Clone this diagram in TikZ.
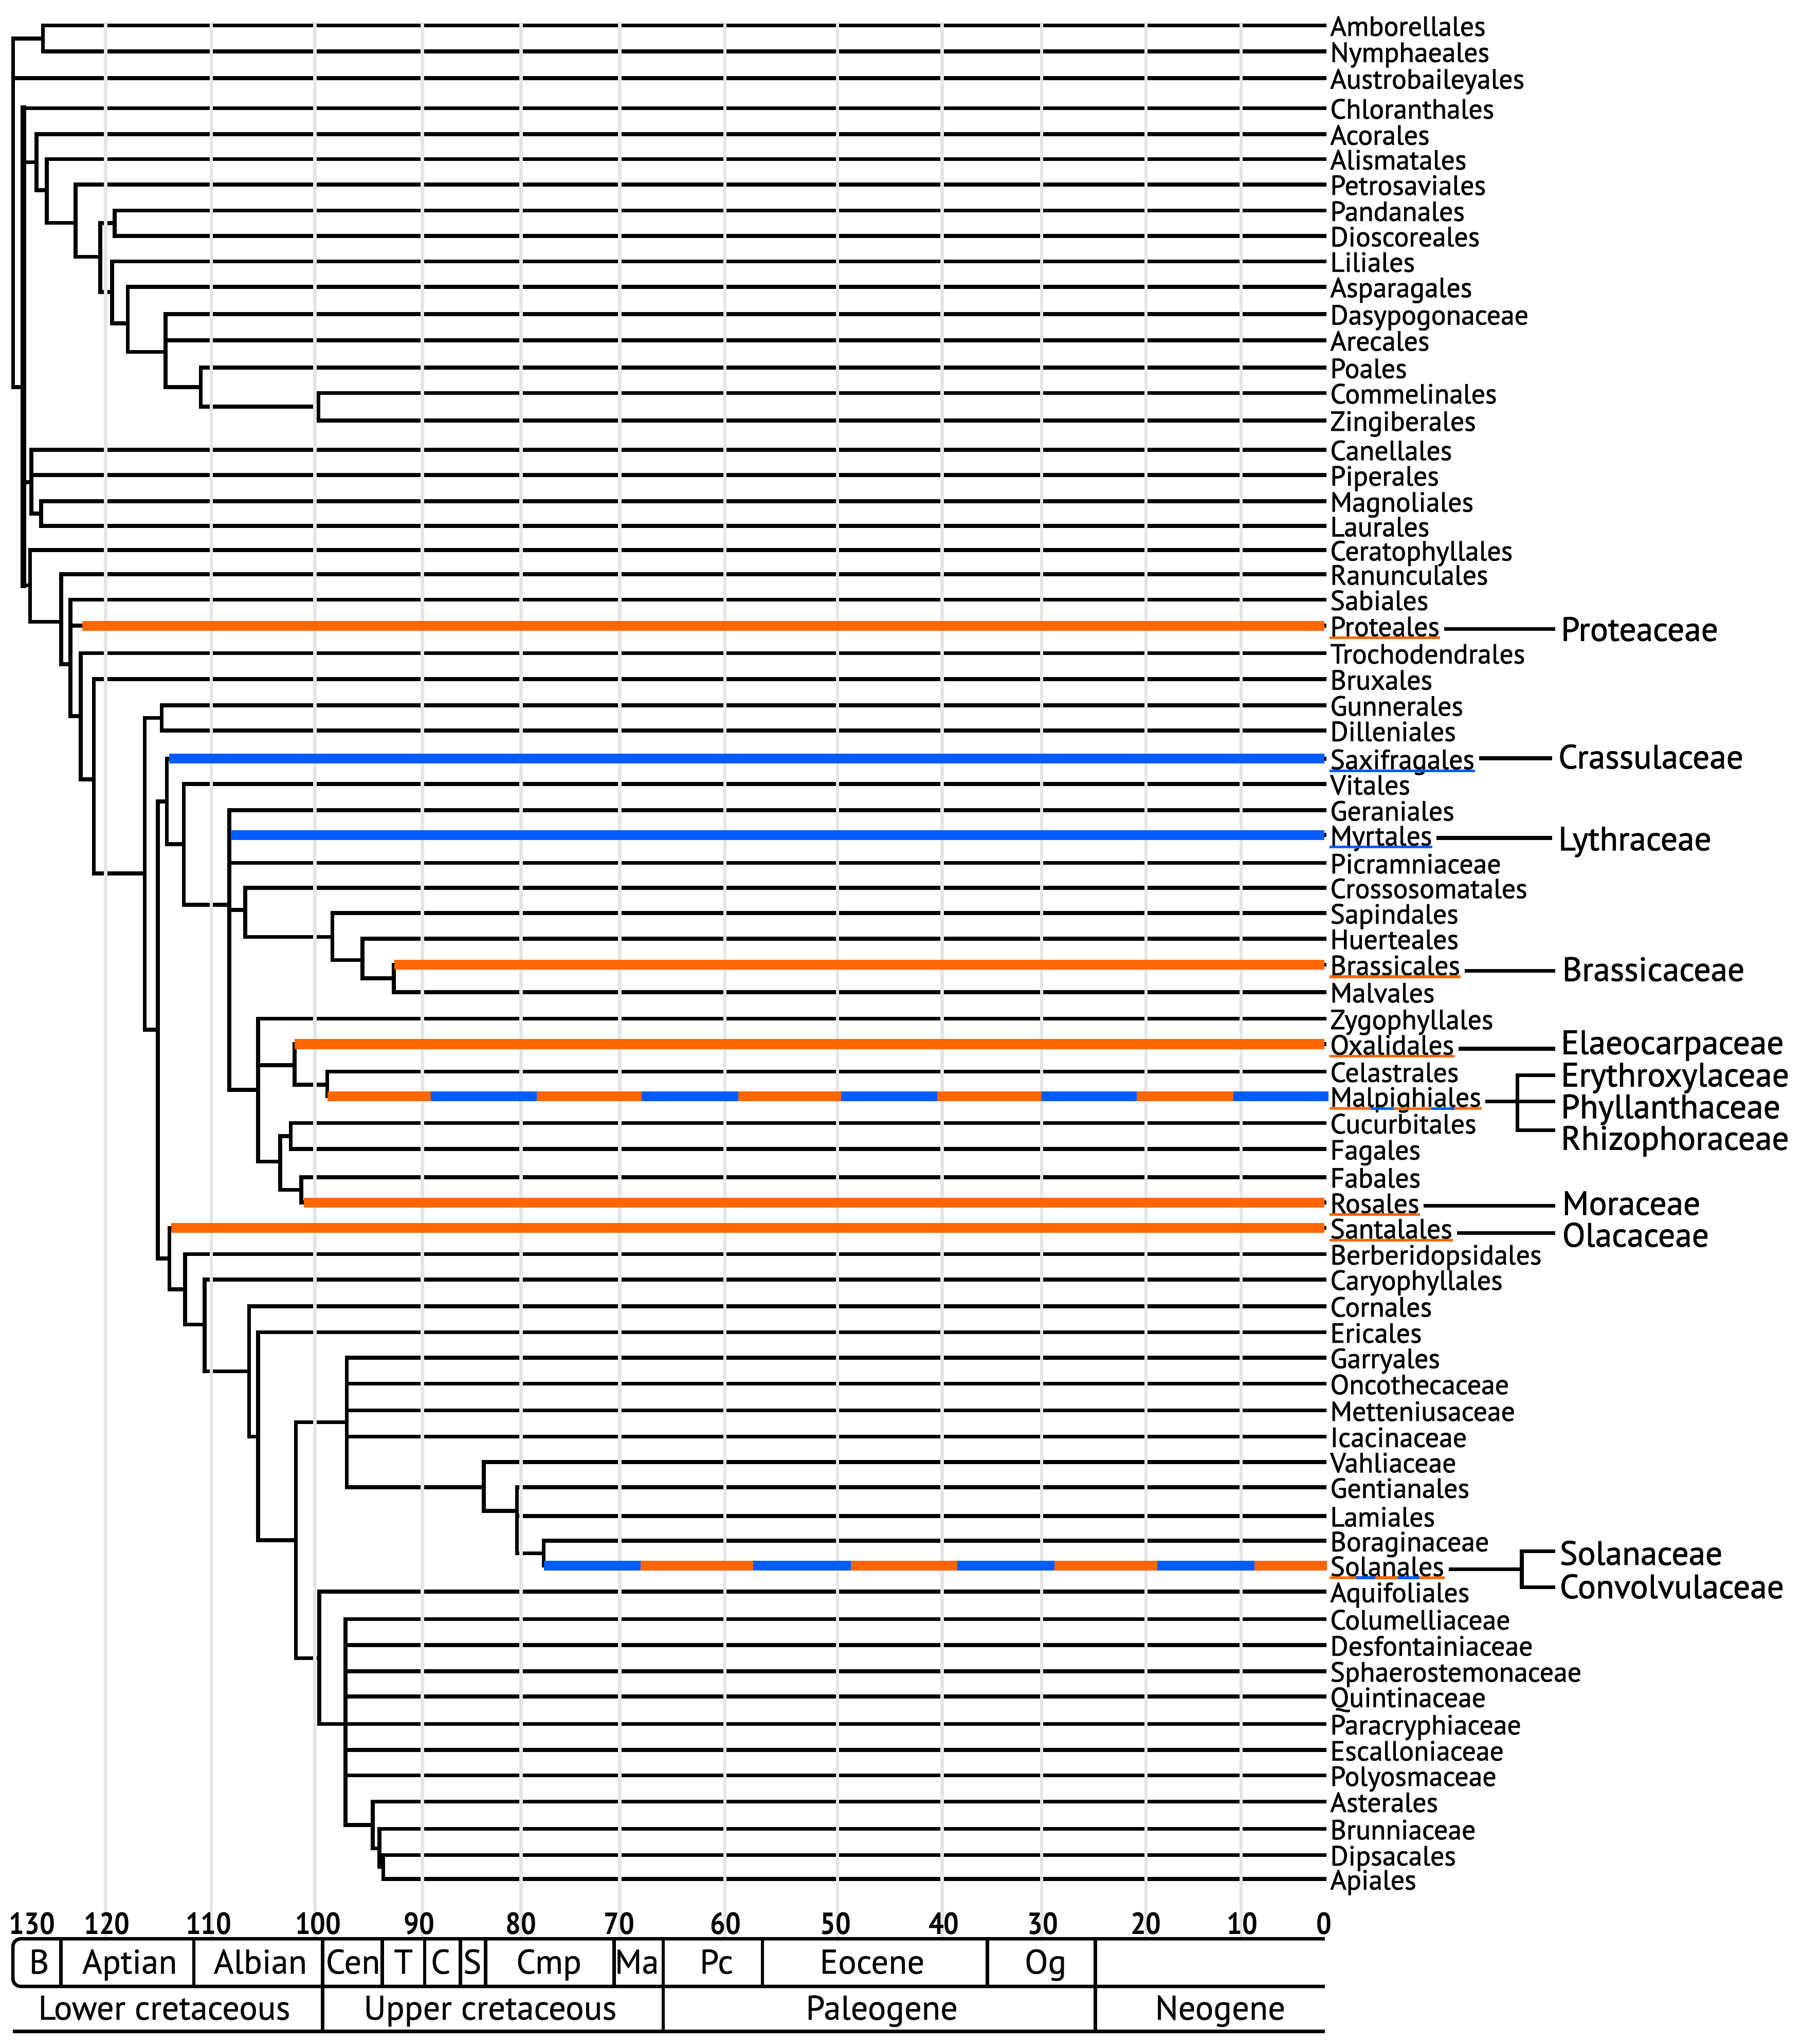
\documentclass[tikz,border=0pt]{standalone}
\usepackage{fontspec}
\usepackage{graphicx}
\setmainfont{PT Sans}
\newfontfamily\labfont{PT Sans}[FakeBold=1.4]
\newfontfamily\stfont{PT Sans}[FakeBold=0.6]
\usetikzlibrary{calc}
\definecolor{orng}{RGB}{255,102,0}
\definecolor{blu}{RGB}{0,92,255}
\definecolor{gridgray}{RGB}{229,229,229}
\begin{document}
\begin{tikzpicture}[x=0.5pt,y=-0.5pt,
  br/.style={line width=1.5pt, line cap=rect},
  brk/.style={line width=2.2pt, line cap=rect},
  gridln/.style={line width=1.25pt, draw=gridgray},
  hl/.style={line width=3.8pt},
  leaflab/.style={anchor=base west, inner sep=0pt, font=\labfont\fontsize{10.6}{12}\selectfont},
  famlab/.style={anchor=base west, inner sep=0pt, font=\labfont\fontsize{12.9}{14}\selectfont},
  conn/.style={line width=1.4pt},
  uline/.style={line width=1pt},
  ticklab/.style={anchor=base, inner sep=0pt, font=\bfseries\fontsize{11.75}{13}\selectfont},
  stagelab/.style={anchor=base, inner sep=0pt, font=\stfont\fontsize{13.1}{14}\selectfont},
  scl/.style={line width=1.3pt}]
\useasboundingbox (0,0) rectangle (1382,1568);
\fill[white] (0,0) rectangle (1382,1568);

% ---------- black tree ----------
\draw[br] (10,29.5) -- (10,297);
\draw[brk] (18,83) -- (18,449);
\foreach \nx/\a/\b/\s/\p in {
 33/19.5/39.5/29.5/10, 18/83/83/297/10,
 28/103/146/124.5/18, 36/122/171/146/28, 58/141.5/197/171/36,
 77/171.25/224/197/58, 88/161.5/181/171.25/77, 86/200.5/248/224/77,
 98/220/270/248/86, 127/241/297/270/98, 154/282/312/297/127,
 244/301.5/322.5/312/154,
 24/345/394/370/18, 31.5/384.5/403.5/394/24,
 23/422/477/449/18, 47/440.5/509.5/477/23, 54/460/549.4/509.5/47,
 62/501/597.8/549.4/54, 72/521/670/597.8/62, 111/550.75/790/670/72,
 124/541/560.5/550.75/111, 121/614.8/965.5/790/111,
 128/582/647.6/614.8/121, 141/601.5/694/647.6/128, 176/621.5/836/694/141,
 188/681/718.7/698/176, 255/700.5/736.4/718.7/188, 278/720/750.5/736.4/255,
 302/740/761/750.5/278,
 198/781.5/891/836/176, 226/801/832/817/198, 251/822/841/832/226,
 215/871.5/912.75/891/198, 223/861.5/881.5/871.5/215, 231/903/922.5/912.75/215,
 130/942/989/965.5/121, 142/962/1016/989/130, 157/981.5/1052/1016/142,
 191/1002/1102/1052/157, 198/1022/1181.5/1102/191, 227/1091/1272/1181.5/198,
 266/1041.5/1141/1091/227, 371/1121.5/1159/1141/266, 396.5/1141/1191.5/1159/371,
 417/1182/1201/1191.5/396.5,
 245/1221/1322.5/1272/227, 265/1242/1400/1322.5/245, 286/1382/1418/1400/265,
 291/1403/1432/1418/286, 294/1423/1441.5/1432/291}
 {\draw[br] (\nx,\a) -- (\nx,\b); \draw[br] (\p,\s) -- (\nx,\s);}

\foreach \n/\y/\sx/\t in {
 Amb/19.5/33/Amborellales, Nym/39.5/33/Nymphaeales, Aus/60/10/Austrobaileyales,
 Chl/83/18/Chloranthales, Aco/103/28/Acorales, Ali/122/36/Alismatales,
 Pet/141.5/58/Petrosaviales, Pan/161.5/88/Pandanales, Dio/181/88/Dioscoreales,
 Lil/200.5/86/Liliales, Asp/220/98/Asparagales, Das/241/127/Dasypogonaceae,
 Are/261/127/Arecales, Poa/282/154/Poales, Com/301.5/244/Commelinales,
 Zin/322.5/244/Zingiberales, Can/345/24/Canellales, Pip/364.5/24/Piperales,
 Mag/384.5/31.5/Magnoliales, Lau/403.5/31.5/Laurales, Cer/422/23/Ceratophyllales,
 Ran/440.5/47/Ranunculales, Sab/460/54/Sabiales, Pro/480/54/Proteales,
 Tro/501/62/Trochodendrales, Bru/521/72/Bruxales, Gun/541/124/Gunnerales,
 Dil/560.5/124/Dilleniales, Sax/582/128/Saxifragales, Vit/601.5/141/Vitales,
 Ger/621.5/176/Geraniales, Myr/640.5/176/Myrtales, Pic/662/176/Picramniaceae,
 Cro/681/188/Crossosomatales, Sap/700.5/255/Sapindales, Hue/720/278/Huerteales,
 Bra/740/302/Brassicales, Mal/761/302/Malvales, Zyg/781.5/198/Zygophyllales,
 Oxa/801/226/Oxalidales, Cel/822/251/Celastrales, Malp/841/251/Malpighiales,
 Cuc/861.5/223/Cucurbitales, Fag/881.5/223/Fagales, Fab/903/231/Fabales,
 Ros/922.5/231/Rosales, San/942/130/Santalales, Ber/962/142/Berberidopsidales,
 Car/981.5/157/Caryophyllales, Cor/1002/191/Cornales, Eri/1022/198/Ericales,
 Gar/1041.5/266/Garryales, Onc/1061.5/266/Oncothecaceae, Met/1082/266/Metteniusaceae,
 Ica/1102/266/Icacinaceae, Vah/1121.5/371/Vahliaceae, Gen/1141/396.5/Gentianales,
 Lam/1163/396.5/Lamiales, Bor/1182/417/Boraginaceae, Sol/1201/417/Solanales,
 Aqu/1221/245/Aquifoliales, Col/1242/265/Columelliaceae, Des/1262/265/Desfontainiaceae,
 Sph/1282/265/Sphaerostemonaceae, Qui/1301.5/265/Quintinaceae, Par/1322.5/245/Paracryphiaceae,
 Esc/1342.5/265/Escalloniaceae, Pol/1362/265/Polyosmaceae, Ast/1382/286/Asterales,
 Brn/1403/291/Brunniaceae, Dip/1423/294/Dipsacales, Api/1441.5/294/Apiales}
 {\draw[br] (\sx,\y) -- (1016,\y);
  \node[leaflab] (lab-\n) at (1020,{\y+8}) {\t};}

% ---------- grey time lines (over black) ----------
\foreach \gx in {81,162,241.5,324,399.7,475.4,556,642.3,722.6,799,878.9,952.1}
  \draw[gridln] (\gx,17) -- (\gx,1486);

% ---------- coloured branches ----------
\draw[hl,orng] (63,480) -- (1016,480);
\draw[hl,blu] (129.8,582) -- (1016,582);
\draw[hl,blu] (177,640.5) -- (1016,640.5);
\draw[hl,orng] (302.4,740) -- (1016,740);
\draw[hl,orng] (226,801) -- (1016,801);
\draw[hl,orng] (233,922.5) -- (1016,922.5);
\draw[hl,orng] (131.4,942) -- (1016,942);
\foreach \a/\b/\c in {251.1/330.3/orng, 330.3/411.9/blu, 411.9/492.3/orng, 492.3/566.4/blu,
  566.4/645/orng, 645/719.1/blu, 719.1/798.9/orng, 798.9/871.8/blu, 871.8/945.9/orng, 945.9/1019/blu}
  \draw[hl,\c] (\a,841) -- (\b,841);
\foreach \a/\b/\c in {417.3/491.4/blu, 491.4/577.9/orng, 577.9/652.5/blu, 652.5/734.2/orng,
  734.2/808.7/blu, 808.7/887.6/orng, 887.6/962.1/blu, 962.1/1018/orng}
  \draw[hl,\c] (\a,1201) -- (\b,1201);

% ---------- underlines ----------
\foreach \n/\c in {Pro/orng, Sax/blu, Myr/blu, Bra/orng, Oxa/orng, Ros/orng, San/orng}
  \draw[uline,\c] ([yshift=-0.65pt]lab-\n.base west) -- ([yshift=-0.65pt]lab-\n.base east);
\coordinate (m0) at ([yshift=-0.65pt]lab-Malp.base west);
\coordinate (m1) at ([yshift=-0.65pt]lab-Malp.base east);
\foreach \a/\b/\c in {0/0.27/orng, 0.27/0.42/blu, 0.42/0.67/orng, 0.67/0.82/blu, 0.82/1/orng}
  \draw[uline,\c] ($(m0)!\a!(m1)$) -- ($(m0)!\b!(m1)$);
\coordinate (s0) at ([yshift=-0.65pt]lab-Sol.base west);
\coordinate (s1) at ([yshift=-0.65pt]lab-Sol.base east);
\foreach \a/\b/\c in {0/0.226/orng, 0.226/0.396/blu, 0.396/0.593/orng, 0.593/0.78/blu, 0.78/1/orng}
  \draw[uline,\c] ($(s0)!\a!(s1)$) -- ($(s0)!\b!(s1)$);

% ---------- family labels ----------
\node[famlab] (fam-Pro) at (1197,491.6) {Proteaceae};
\node[famlab] (fam-Sax) at (1195,589.5) {Crassulaceae};
\node[famlab] (fam-Myr) at (1195,652.3) {Lythraceae};
\node[famlab] (fam-Bra) at (1198,752.5) {Brassicaceae};
\node[famlab] (fam-Oxa) at (1197,808.6) {Elaeocarpaceae};
\node[famlab] (fam-Ery) at (1197,833.4) {Erythroxylaceae};
\node[famlab] (fam-Phy) at (1197,857.8) {Phyllanthaceae};
\node[famlab] (fam-Rhi) at (1197,882) {Rhizophoraceae};
\node[famlab] (fam-Ros) at (1198,931.9) {Moraceae};
\node[famlab] (fam-San) at (1198,956.3) {Olacaceae};
\node[famlab] (fam-Sla) at (1196,1200.4) {Solanaceae};
\node[famlab] (fam-Con) at (1196,1226) {Convolvulaceae};

\coordinate (k-Pro) at (1193,482.5);
\coordinate (k-Sax) at (1190.5,581.7);
\coordinate (k-Myr) at (1190.5,642.8);
\coordinate (k-Bra) at (1193,744.7);
\coordinate (k-Oxa) at (1193,804.5);
\coordinate (k-Malp) at (1193,844.9);
\coordinate (kb-Malp) at (1164,844.9);
\coordinate (k-Ery) at (1193,824.9);
\coordinate (k-Rhi) at (1193,867);
\coordinate (k-Ros) at (1193,925);
\coordinate (k-San) at (1193,946);
\coordinate (k-Sol) at (1167.3,1203.7);
\coordinate (k-Sla) at (1193,1189.9);
\coordinate (k-Con) at (1193,1217.5);
\foreach \n in {Pro,Sax,Myr,Bra,Oxa,Malp,Ros,San,Sol}
  \draw[conn,shorten <=1.5pt] (lab-\n.east |- k-\n) -- (k-\n);
\draw[conn] (k-Ery) -| (kb-Malp) |- (k-Rhi);
\draw[conn] (k-Sla) -| (k-Sol) |- (k-Con);

% ---------- time scale ----------
\foreach \v/\cx in {130/24.6,120/82,110/160,100/244,90/321.5,80/399.6,70/475,60/556.6,50/641,40/724,30/800,20/879,10/953,0/1015.5}
  \node[ticklab] (t\v) at (\cx,1483.6) {\scalebox{0.88}[1]{\v}};
\draw[scl,rounded corners=3pt] (1016.2,1487.3) -- (9.9,1487.3) -- (9.9,1523.8) -- (1016.2,1523.8);
\draw[scl] (9.9,1558.4) -- (1016.2,1558.4);
\foreach \dx in {46.8,148.6,293.3,325.7,353.2,372.5,471.1,584.9,757.4}
  \draw[scl] (\dx,1487.3) -- (\dx,1523.8);
\foreach \dx in {247.5,508.8,840.2}
  \draw[scl] (\dx,1487.3) -- (\dx,1558.4);
\foreach \n/\cx/\t in {B/30/B, Apt/99.5/Aptian, Alb/199.7/Albian, Cen/270.8/Cen, Tur/309.5/T, Con/338/C,
  San/362.3/S, Cmp/421/Cmp, Maa/488.5/Ma, Pc/549.6/Pc, Eoc/669/Eocene, Og/802/Og}
  \node[stagelab] (st-\n) at (\cx,1514) {\t};
\foreach \n/\cx/\t in {LC/126/Lower cretaceous, UC/376/Upper cretaceous, Pal/676.4/Paleogene, Neo/936/Neogene}
  \node[stagelab] (era-\n) at (\cx,1549.3) {\t};
\end{tikzpicture}
\end{document}
